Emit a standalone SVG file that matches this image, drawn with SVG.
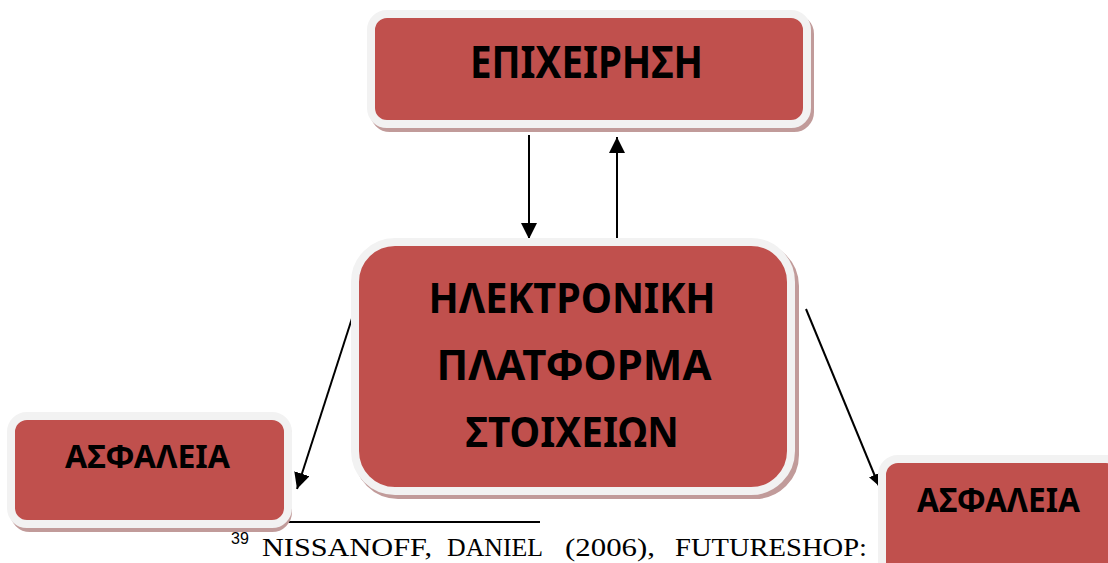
<svg xmlns="http://www.w3.org/2000/svg" width="1108" height="563" viewBox="0 0 1108 563">
<defs>
<style>
.sh{fill:#c19b9a;stroke:#c19b9a;stroke-width:8}
.bx{fill:#c0504d;stroke:#f2f2f2;stroke-width:8}
.lb{font-family:"Noto Sans","Open Sans",sans-serif;font-weight:bold;fill:#000;text-anchor:middle}
.cn{stroke:#000;stroke-width:2;fill:none}
.fn{font-family:"Liberation Serif","Times New Roman",serif;fill:#000}
</style>
<marker id="ah" viewBox="0 0 10 10" refX="10" refY="5" markerWidth="8" markerHeight="8" markerUnits="strokeWidth" orient="auto">
<path d="M0,0 L10,5 L0,10 Z" fill="#000"/>
</marker>
<marker id="ahs" viewBox="0 0 10 10" refX="10" refY="5" markerWidth="6" markerHeight="6" markerUnits="strokeWidth" orient="auto">
<path d="M0,0 L10,5 L0,10 Z" fill="#000"/>
</marker>
</defs>
<rect width="1108" height="563" fill="#fff"/>
<g id="footnote">
<line x1="280" y1="522" x2="540" y2="522" stroke="#000" stroke-width="2"/>
<text x="231" y="544" font-size="16" font-family="Liberation Sans, Arial, sans-serif" fill="#000">39</text>
<text class="fn" x="262" y="556" font-size="25" textLength="170" lengthAdjust="spacingAndGlyphs">NISSANOFF,</text>
<text class="fn" x="447" y="556" font-size="25" textLength="96" lengthAdjust="spacingAndGlyphs">DANIEL</text>
<text class="fn" x="565" y="556" font-size="25" textLength="90" lengthAdjust="spacingAndGlyphs">(2006),</text>
<text class="fn" x="675" y="556" font-size="25" textLength="192" lengthAdjust="spacingAndGlyphs">FUTURESHOP:</text>
</g>
<g id="connectors">
<line class="cn" x1="529" y1="135" x2="529" y2="239" marker-end="url(#ah)"/>
<line class="cn" x1="617" y1="238" x2="617" y2="137" marker-end="url(#ah)"/>
<line class="cn" x1="355" y1="309" x2="297" y2="489" marker-end="url(#ah)"/>
<line class="cn" x1="806" y1="309" x2="879" y2="486" marker-end="url(#ahs)"/>
</g>
<g id="node-epixeirisi">
<rect class="sh" x="374" y="18" width="436" height="110" rx="16"/>
<rect class="bx" x="371" y="14" width="436" height="110" rx="16"/>
<text class="lb" x="586.5" y="78" font-size="44" textLength="233" lengthAdjust="spacingAndGlyphs">ΕΠΙΧΕΙΡΗΣΗ</text>
</g>
<g id="node-platforma">
<rect class="sh" x="358" y="246" width="437" height="249" rx="40"/>
<rect class="bx" x="355" y="242" width="436" height="249" rx="40"/>
<text class="lb" x="572" y="313" font-size="42" textLength="287" lengthAdjust="spacingAndGlyphs">ΗΛΕΚΤΡΟΝΙΚΗ</text>
<text class="lb" x="574" y="380" font-size="42" textLength="275" lengthAdjust="spacingAndGlyphs">ΠΛΑΤΦΟΡΜΑ</text>
<text class="lb" x="572" y="447" font-size="42" textLength="213" lengthAdjust="spacingAndGlyphs">ΣΤΟΙΧΕΙΩΝ</text>
</g>
<g id="node-asfaleia-left">
<rect class="sh" x="14" y="420" width="274" height="108" rx="16"/>
<rect class="bx" x="11" y="416" width="277" height="108" rx="16"/>
<text class="lb" x="147.5" y="468" font-size="33" textLength="165" lengthAdjust="spacingAndGlyphs">ΑΣΦΑΛΕΙΑ</text>
</g>
<g id="node-asfaleia-right">
<rect class="sh" x="885" y="462" width="240" height="120" rx="16"/>
<rect class="bx" x="882" y="459" width="240" height="120" rx="16"/>
<text class="lb" x="998.5" y="512" font-size="34" textLength="163" lengthAdjust="spacingAndGlyphs">ΑΣΦΑΛΕΙΑ</text>
</g>
</svg>
